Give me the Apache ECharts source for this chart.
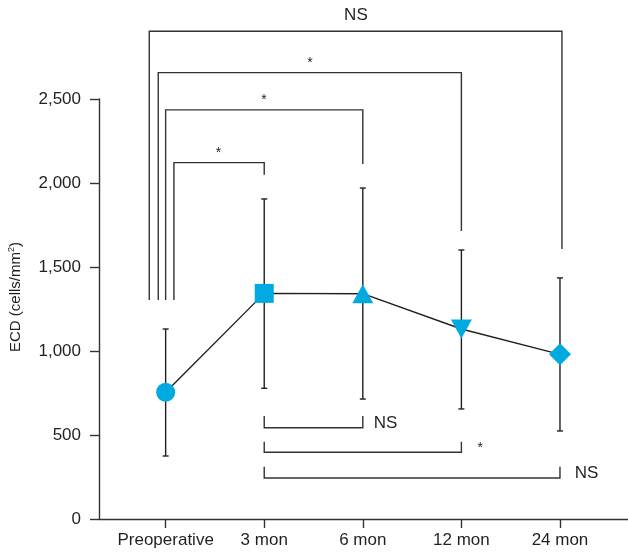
<!DOCTYPE html>
<html>
<head>
<meta charset="utf-8">
<script src="https://cdn.jsdelivr.net/npm/echarts@6/dist/echarts.min.js"></script>
<style>html,body{margin:0;padding:0;background:#fff;}#c{width:628px;height:553px;}</style>
</head>
<body>
<div id="c"></div>
<script>
// ---- data ----
var categories = ['Preoperative', '3 mon', '6 mon', '12 mon', '24 mon'];
var meanECD = [754, 1343, 1341, 1131, 980];
var upperECD = [1131, 1905, 1970, 1601, 1435];
var lowerECD = [375, 778, 714, 655, 524];
var markerShapes = ['circle', 'rect', 'triangle', 'triangle', 'diamond'];
var markerRotate = [0, 0, 0, 180, 0];
var markerSizes = [19, 19, [21, 19], [21, 19], 22];
var yTicks = [0, 500, 1000, 1500, 2000, 2500];
// brackets: [xStart, xEnd, yBar, yStartLegEnd, yEndLegEnd]
var bracketsTop = [
  [-0.166, 4.02, 2903, 1304, 1607],
  [-0.075, 3.0, 2657, 1304, 1714],
  [0.0, 2.0, 2435, 1304, 2113],
  [0.084, 1.0, 2121, 1304, 2049]
];
var bracketsBottom = [
  [1, 2, 543, 613, 613],
  [1, 3, 397, 460, 460],
  [1, 4, 244, 311, 311]
];
// annotation labels: [x, y, text]
var annotations = [
  [1.93, 2997, 'NS'],
  [1.464, 2714, '*'],
  [0.997, 2494, '*'],
  [0.537, 2178, '*'],
  [2.23, 571, 'NS'],
  [3.19, 422, '*'],
  [4.27, 274, 'NS']
];

var lineColor = '#231f20';
var axisColor = '#333';
var textColor = '#231f20';
var markerColor = '#00a9e0';
var fontFam = 'Liberation Sans, Arial, Helvetica, sans-serif';

var chart = echarts.init(document.getElementById('c'));

var meanData = meanECD.map(function (v, i) {
  return {
    value: [i, v],
    symbol: markerShapes[i],
    symbolSize: markerSizes[i],
    symbolRotate: markerRotate[i]
  };
});
var errData = meanECD.map(function (v, i) { return [i, lowerECD[i], upperECD[i]]; });

chart.setOption({
  animation: false,
  grid: { left: 99, right: 0, top: 99, bottom: 34, containLabel: false },
  xAxis: {
    type: 'value',
    min: -0.676,
    max: 4.69,
    splitLine: { show: false },
    axisLine: { show: true, onZero: false, lineStyle: { color: axisColor, width: 1.4 } },
    axisTick: { show: true, length: 9, customValues: [0, 1, 2, 3, 4], lineStyle: { color: axisColor, width: 1.4 } },
    axisLabel: {
      customValues: [0, 1, 2, 3, 4],
      formatter: function (v) { return categories[Math.round(v)]; },
      color: textColor, fontSize: 17, fontFamily: fontFam, margin: 13
    }
  },
  yAxis: {
    type: 'value',
    min: 0, max: 2500, interval: 500,
    splitLine: { show: false },
    axisLine: { show: true, onZero: false, lineStyle: { color: axisColor, width: 1.4 } },
    axisTick: { show: true, length: 9, lineStyle: { color: axisColor, width: 1.4 } },
    axisLabel: {
      color: textColor, fontSize: 17, fontFamily: fontFam, margin: 18,
      formatter: function (v) { return v.toLocaleString('en-US'); }
    }
  },
  graphic: [{
    type: 'text',
    x: 16, y: 297,
    rotation: Math.PI / 2,
    style: {
      text: '{a|ECD (cells/mm}{s|2}{a|)}',
      align: 'center', verticalAlign: 'middle',
      fill: textColor,
      rich: {
        a: { fontSize: 15, fontFamily: fontFam, fill: textColor },
        s: { fontSize: 9, fontFamily: fontFam, fill: textColor, verticalAlign: 'top', padding: [0, 0, 8, 0] }
      }
    }
  }],
  series: [
    {
      type: 'custom',
      name: 'brackets',
      clip: false,
      z: 1,
      silent: true,
      data: bracketsTop.concat(bracketsBottom),
      renderItem: function (params, api) {
        var x1 = api.value(0), x2 = api.value(1), yb = api.value(2), y1 = api.value(3), y2 = api.value(4);
        var p1 = api.coord([x1, y1]), p2 = api.coord([x1, yb]), p3 = api.coord([x2, yb]), p4 = api.coord([x2, y2]);
        return {
          type: 'polyline',
          shape: { points: [p1, p2, p3, p4] },
          style: { stroke: axisColor, lineWidth: 1.4, fill: null }
        };
      }
    },
    {
      type: 'custom',
      name: 'errorbars',
      clip: false,
      z: 2,
      silent: true,
      data: errData,
      renderItem: function (params, api) {
        var x = api.value(0);
        var lo = api.coord([x, api.value(1)]);
        var hi = api.coord([x, api.value(2)]);
        var hw = 3;
        return {
          type: 'group',
          children: [
            { type: 'line', shape: { x1: lo[0], y1: lo[1], x2: hi[0], y2: hi[1] }, style: { stroke: lineColor, lineWidth: 1.4 } },
            { type: 'line', shape: { x1: lo[0] - hw, y1: lo[1], x2: lo[0] + hw, y2: lo[1] }, style: { stroke: lineColor, lineWidth: 1.4 } },
            { type: 'line', shape: { x1: hi[0] - hw, y1: hi[1], x2: hi[0] + hw, y2: hi[1] }, style: { stroke: lineColor, lineWidth: 1.4 } }
          ]
        };
      }
    },
    {
      type: 'custom',
      name: 'annotations',
      clip: false,
      z: 2,
      silent: true,
      data: annotations,
      renderItem: function (params, api) {
        var p = api.coord([api.value(0), api.value(1)]);
        var t = annotations[params.dataIndex][2];
        return {
          type: 'text',
          x: p[0], y: p[1],
          style: {
            text: t,
            align: 'center', verticalAlign: 'middle',
            fontSize: t === '*' ? 14 : 17,
            fontFamily: fontFam,
            fill: textColor
          }
        };
      }
    },
    {
      type: 'line',
      name: 'ECD',
      z: 3,
      data: meanData,
      lineStyle: { color: lineColor, width: 1.4 },
      itemStyle: { color: markerColor },
      showAllSymbol: true
    }
  ]
});
</script>
</body>
</html>
